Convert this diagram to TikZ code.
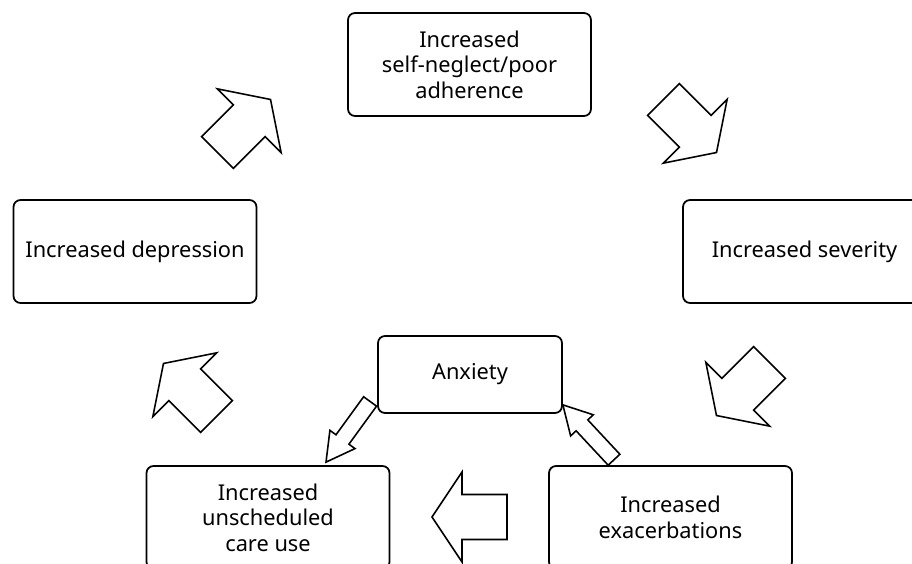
\documentclass[tikz,border=0pt]{standalone}
\usepackage{fontspec}
\setmainfont{Noto Sans}
\usetikzlibrary{calc}

\begin{document}
\begin{tikzpicture}[
  x=0.02cm, y=-0.02cm,
  box/.style={draw,line width=1pt,rounded corners=0.14cm,align=center,inner sep=2pt,minimum width=4.86cm,minimum height=2.06cm,font=\fontsize{12.4}{14.6}\selectfont},
  sbox/.style={box,minimum width=3.68cm,minimum height=1.54cm},
  fatarrow/.pic={\draw[line width=0.9pt] (-37.5,-22.5) -- (7.5,-22.5) -- (7.5,-45) -- (37.5,0) -- (7.5,45) -- (7.5,22.5) -- (-37.5,22.5) -- cycle;},
  thinarrow/.pic={\draw[line width=0.9pt] (-75,-8) -- (-28,-8) -- (-28,-15.5) -- (0,0) -- (-28,15.5) -- (-28,8) -- (-75,8) -- cycle;}
]
  \useasboundingbox (0,0) rectangle (912,564);
  \node[box] (adh) at (469.5,64.5) {Increased\\self-neglect/poor\\adherence};
  \node[box] (dep) at (135,251.5) {Increased depression};
  \node[box] (sev) at (804.5,251.5) {Increased severity};
  \node[sbox] (anx) at (470,374.5) {Anxiety};
  \node[box] (care) at (268,517.5) {Increased\\unscheduled\\care use};
  \node[box] (exa) at (670.5,517.5) {Increased\\exacerbations};
  \pic[rotate=45] at (244,126) {fatarrow};
  \pic[rotate=-45] at (690,126) {fatarrow};
  \pic[rotate=225] at (743,389) {fatarrow};
  \pic[rotate=180] at (469.5,517) {fatarrow};
  \pic[rotate=135] at (190,390) {fatarrow};
  \pic[rotate=234] at ($(care.north)+(58,-3)$) {thinarrow};
  \pic[rotate=133] at ($(anx.south east)+(0,-9)$) {thinarrow};
\end{tikzpicture}
\end{document}
